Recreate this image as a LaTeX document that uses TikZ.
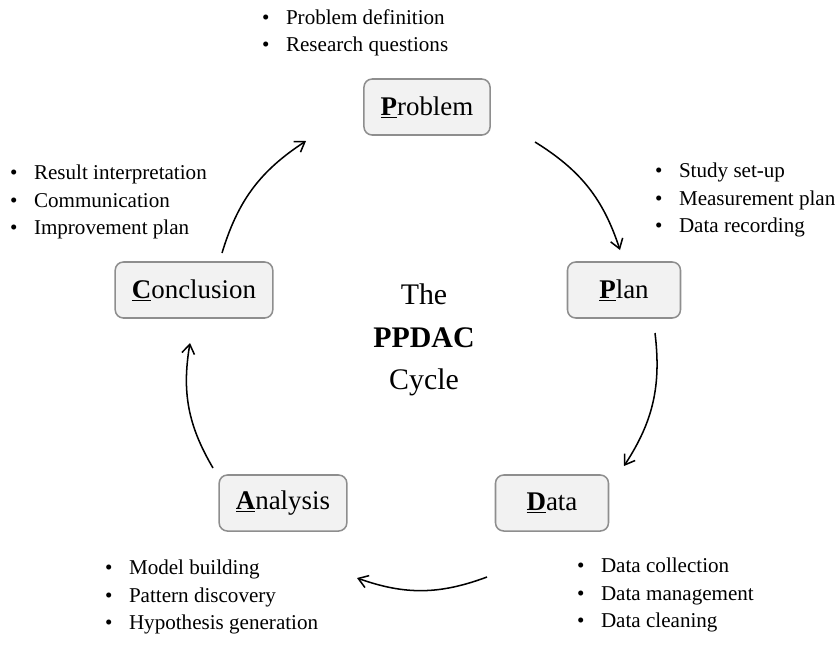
\documentclass[tikz,border=0pt]{standalone}
\usepackage{fontspec}
\setmainfont{Liberation Serif}
\usepackage{tikz}
\usetikzlibrary{arrows.meta}

\definecolor{boxfill}{HTML}{F2F2F2}
\definecolor{boxline}{HTML}{8E8E8E}

\tikzset{
  stage/.style={draw=boxline, fill=boxfill, line width=1.3pt, rounded corners=7pt,
    minimum width=3.39cm, minimum height=1.68cm, inner xsep=0.5cm,
    font=\fontsize{23}{27}\selectfont},
  notes/.style={anchor=west, inner sep=0pt, align=left,
    font=\fontsize{18}{23.5}\selectfont},
  cyc/.style={-{Straight Barb[length=2.8mm,width=3.8mm]}, line width=1.3pt, bend left=20}
}
\newcommand{\bl}{\textbullet\hspace{14pt}}

\begin{document}
\begin{tikzpicture}[x=0.03cm, y=-0.03cm]
\useasboundingbox (0,0) rectangle (838,661);
% stages
\node[stage] (problem) at (427,107) {\underline{\textbf{P}}roblem};
\node[stage] (plan) at (624,290) {\underline{\textbf{P}}lan};
\node[stage] (data) at (552,503) {\underline{\textbf{D}}ata};
\node[stage] (analysis) at (283,503) {\underline{\textbf{A}}nalysis};
\node[stage] (conclusion) at (194,290) {\underline{\textbf{C}}onclusion};
% centre
\node[align=center, font=\fontsize{25.5}{36.3}\selectfont] (title) at (424,340)
  {The\\\textbf{PPDAC}\\Cycle};
% notes
\node[notes] (problemnotes) at (262,33) {\bl Problem definition\\\bl Research questions};
\node[notes] (plannotes) at (655,200) {\bl Study set-up\\\bl Measurement plan\\\bl Data recording};
\node[notes] (datanotes) at (577,595) {\bl Data collection\\\bl Data management\\\bl Data cleaning};
\node[notes] (analysisnotes) at (105,597) {\bl Model building\\\bl Pattern discovery\\\bl Hypothesis generation};
\node[notes] (conclusionnotes) at (10,202) {\bl Result interpretation\\\bl Communication\\\bl Improvement plan};
% arrow ends
\coordinate (a1) at (535,142); \coordinate (b1) at (620,250);
\coordinate (a2) at (655,333); \coordinate (b2) at (624,466);
\coordinate (a3) at (487,577); \coordinate (b3) at (357,578);
\coordinate (a4) at (213,468); \coordinate (b4) at (190,343);
\coordinate (a5) at (222,253); \coordinate (b5) at (306,141);
% cycle
\foreach \i in {1,...,5}
  \draw[cyc] (a\i) to (b\i);
\end{tikzpicture}
\end{document}
